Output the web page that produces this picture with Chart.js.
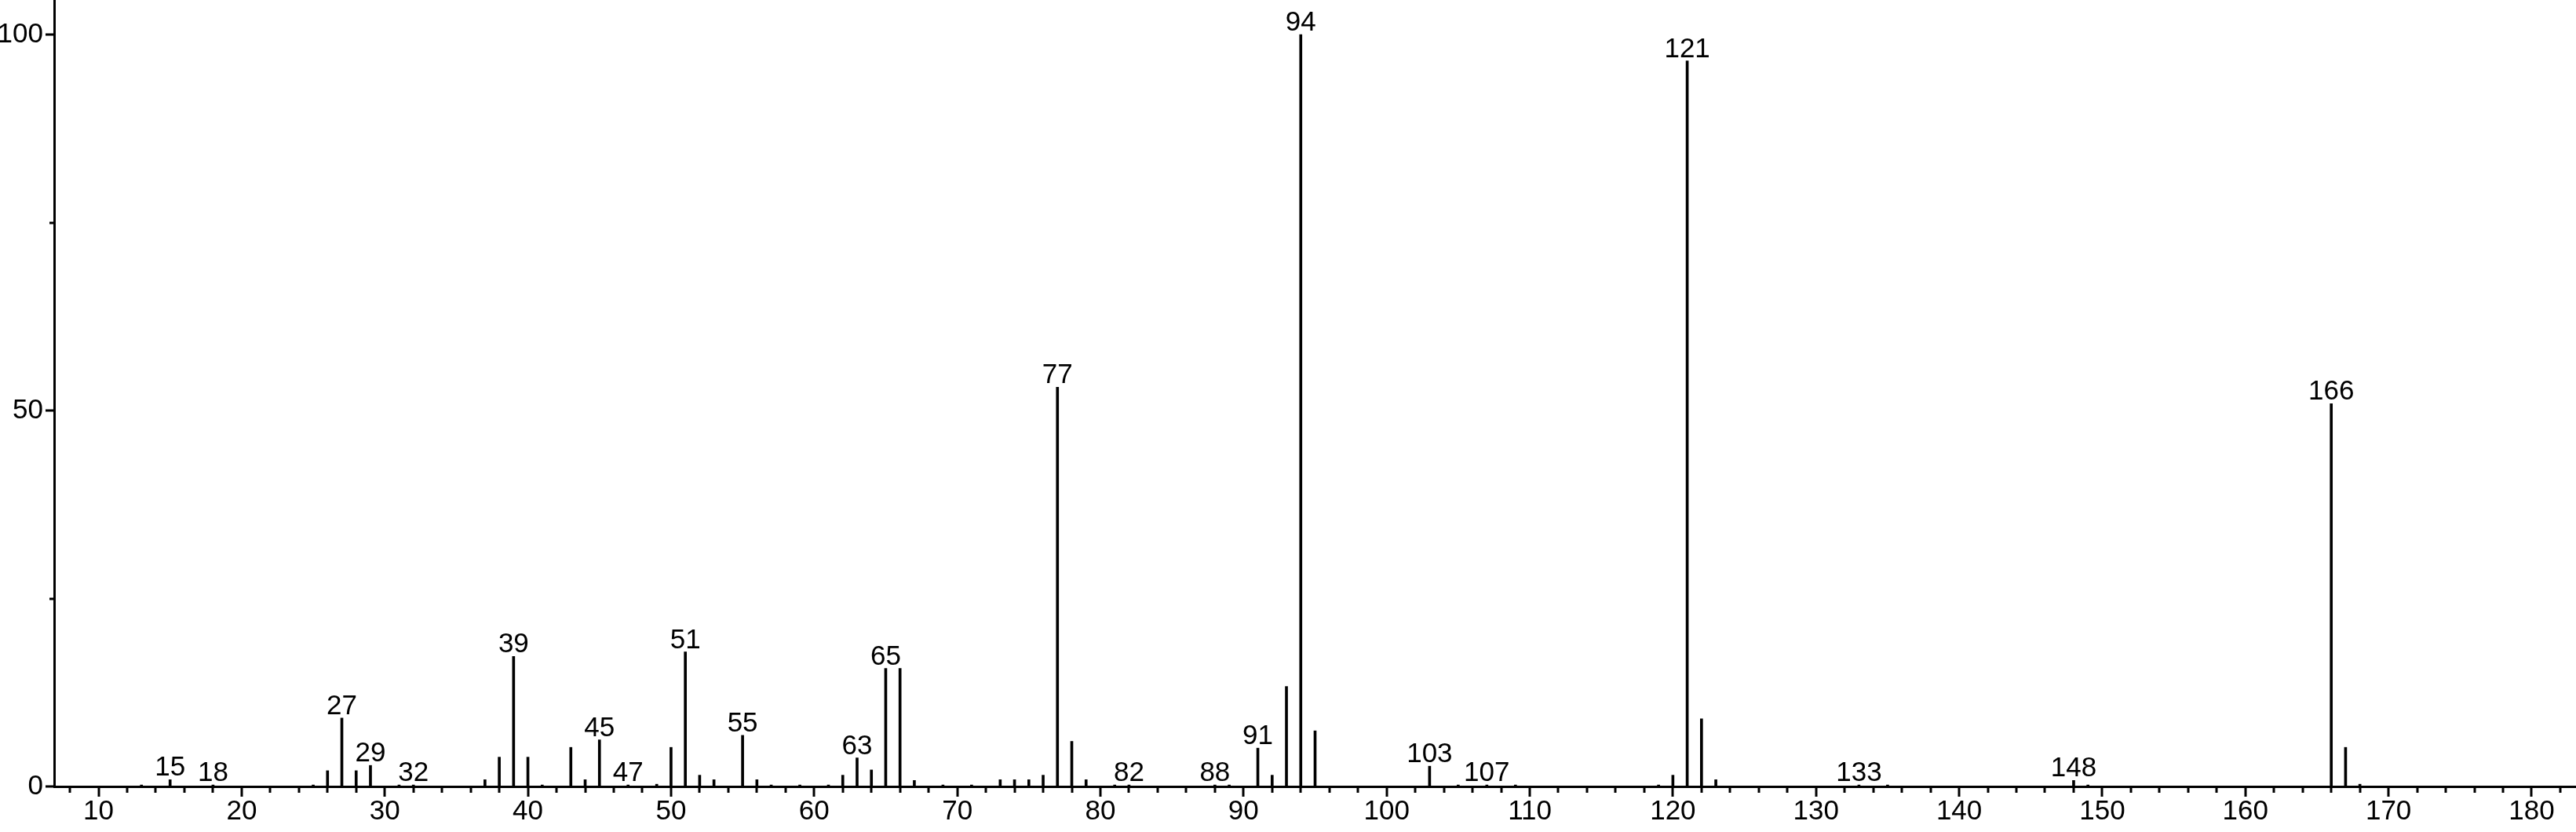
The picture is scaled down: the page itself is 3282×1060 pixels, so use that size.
<!DOCTYPE html>
<html>
<head>
<meta charset="utf-8">
<script src="https://cdn.jsdelivr.net/npm/chart.js@4.4.0/dist/chart.umd.min.js"></script>
<style>
  html, body { margin: 0; padding: 0; background: #fff; }
</style>
</head>
<body>
<canvas id="chart" width="3282" height="1060"></canvas>
<script>
// m/z values and relative intensities
const masses = [
  13, 15, 18, 25, 26, 27, 28, 29, 31, 32,
  37, 38, 39, 40, 41, 43, 44, 45, 47, 49,
  50, 51, 52, 53, 55, 56, 57, 59, 61, 62,
  63, 64, 65, 66, 67, 69, 71, 73, 74, 75,
  76, 77, 78, 79, 81, 82, 88, 89, 91, 92,
  93, 94, 95, 103, 105, 107, 109, 119, 120, 121,
  122, 123, 133, 135, 148, 149, 166, 167, 168,
];
const intensities = [
  0.2, 0.9, 0.2, 0.2, 2.1, 9.1, 2.1, 2.8, 0.2, 0.2,
  0.9, 3.9, 17.3, 3.9, 0.2, 5.2, 0.9, 6.2, 0.2, 0.3,
  5.2, 17.9, 1.5, 0.9, 6.8, 0.9, 0.2, 0.2, 0.2, 1.5,
  3.8, 2.2, 15.7, 15.7, 0.8, 0.2, 0.2, 0.9, 0.9, 0.9,
  1.5, 53.1, 6.0, 0.9, 0.2, 0.2, 0.2, 0.2, 5.1, 1.5,
  13.3, 100, 7.4, 2.7, 0.2, 0.2, 0.2, 0.2, 1.5, 96.5,
  9.0, 0.9, 0.2, 0.2, 0.8, 0.2, 50.9, 5.2, 0.3,
];
const labelledMasses = [15, 18, 27, 29, 32, 39, 45, 47, 51, 55, 63, 65, 77, 82, 88, 91, 94, 103, 107, 121, 133, 148, 166];
const xTickLabels = [10, 20, 30, 40, 50, 60, 70, 80, 90, 100, 110, 120, 130, 140, 150, 160, 170, 180];
const yTickLabels = [0, 50, 100];

const FONT_FAMILY = '"Liberation Sans", Arial, sans-serif';
const FONT_SIZE = 35;

// tick marks drawn outside the axes: long for labelled values, short otherwise
const tickMarks = {
  id: 'tickMarks',
  afterDraw(chart) {
    const { ctx, scales: { x, y } } = chart;
    ctx.save();
    ctx.strokeStyle = '#000';
    ctx.lineWidth = 3;
    ctx.beginPath();
    for (const t of x.ticks) {
      const px = Math.round(x.getPixelForValue(t.value));
      const len = xTickLabels.includes(t.value) ? 13 : 8;
      ctx.moveTo(px, x.top);
      ctx.lineTo(px, x.top + len);
    }
    for (const t of y.ticks) {
      const py = Math.round(y.getPixelForValue(t.value));
      const len = yTickLabels.includes(t.value) ? 11 : 6;
      ctx.moveTo(y.right, py);
      ctx.lineTo(y.right - len, py);
    }
    ctx.stroke();
    ctx.restore();
  },
};

const peakLabels = {
  id: 'peakLabels',
  afterDatasetsDraw(chart) {
    const { ctx } = chart;
    const meta = chart.getDatasetMeta(0);
    ctx.save();
    ctx.font = `${FONT_SIZE}px ${FONT_FAMILY}`;
    ctx.fillStyle = '#000';
    ctx.textAlign = 'center';
    ctx.textBaseline = 'alphabetic';
    for (const m of labelledMasses) {
      const bar = meta.data[masses.indexOf(m)];
      ctx.fillText(String(m), bar.x, bar.y - 5);
    }
    ctx.restore();
  },
};

new Chart(document.getElementById('chart'), {
  type: 'bar',
  data: {
    datasets: [{
      data: masses.map((m, i) => ({ x: m, y: intensities[i] })),
      backgroundColor: '#000',
      borderWidth: 0,
      barThickness: 3,
    }],
  },
  options: {
    responsive: false,
    animation: false,
    devicePixelRatio: 1,
    layout: { padding: 0 },
    plugins: {
      legend: { display: false },
      tooltip: { enabled: false },
    },
    scales: {
      x: {
        type: 'linear',
        min: 6.9,
        max: 183.1,
        offset: false,
        grid: { display: true, drawOnChartArea: false, drawTicks: false },
        border: { display: true, color: '#000', width: 3 },
        ticks: {
          stepSize: 2,
          includeBounds: false,
          autoSkip: false,
          maxRotation: 0,
          padding: 11,
          color: '#000',
          font: { family: FONT_FAMILY, size: FONT_SIZE },
          callback: (v) => (xTickLabels.includes(v) ? v : ''),
        },
        afterFit: (scale) => {
          scale.height = 58;
          scale.paddingLeft = 0;
          scale.paddingRight = 0;
        },
      },
      y: {
        min: 0,
        max: 104.6,
        grid: { display: true, drawOnChartArea: false, drawTicks: false },
        border: { display: true, color: '#000', width: 3 },
        ticks: {
          stepSize: 25,
          includeBounds: false,
          autoSkip: false,
          padding: 14,
          color: '#000',
          font: { family: FONT_FAMILY, size: FONT_SIZE },
          callback: (v) => (yTickLabels.includes(v) ? v : ''),
        },
        afterFit: (scale) => {
          scale.width = 69;
          scale.paddingTop = 0;
          scale.paddingBottom = 0;
        },
      },
    },
  },
  plugins: [tickMarks, peakLabels],
});
</script>
</body>
</html>
